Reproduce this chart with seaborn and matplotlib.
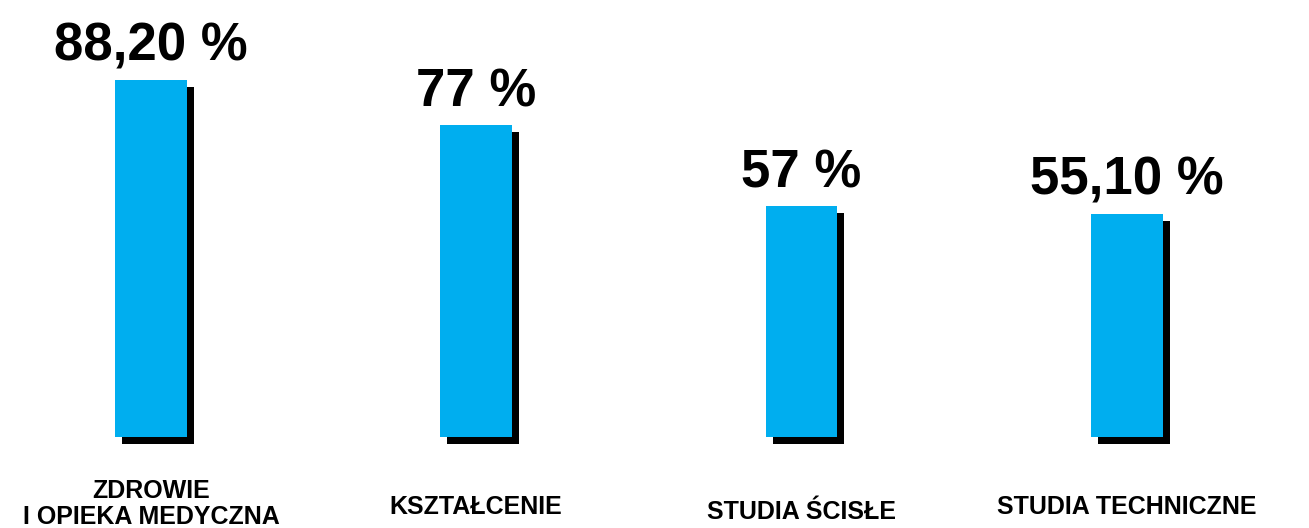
import matplotlib
matplotlib.use("Agg")
import matplotlib.pyplot as plt
import matplotlib.patheffects as pe
import seaborn as sns
import pandas as pd

# ---- Dane ----
kategorie = ["ZDROWIE\nI OPIEKA MEDYCZNA", "KSZTAŁCENIE", "STUDIA ŚCISŁE", "STUDIA TECHNICZNE"]
wartosci = [88.2, 77, 57, 55.1]
etykiety = ["88,20 %", "77 %", "57 %", "55,10 %"]
pozycja_etykiety = [-16.6, -17.3, -18.5, -17.3]  # pionowe położenie podpisów kategorii

data = pd.DataFrame({"kategoria": kategorie, "wartosc": wartosci})

sns.set_style("white")
plt.rcParams['font.family'] = ['Liberation Sans', 'DejaVu Sans']

fig = plt.figure(figsize=(13.09, 5.28), dpi=100)
ax = fig.add_axes([0, 0.172, 1, 0.828])

sns.barplot(data=data, x="kategoria", y="wartosc", color="#00AEEF",
            saturation=1, width=0.22, linewidth=0, ax=ax)

# cień pod słupkami
for p in ax.patches:
    p.set_clip_on(False)
    p.set_path_effects([pe.SimplePatchShadow(offset=(5, -5), shadow_rgbFace="black", alpha=1.0),
                        pe.Normal()])

# wartości nad słupkami
for i, (v, t) in enumerate(zip(wartosci, etykiety)):
    ax.annotate(t, xy=(i, v), xytext=(0, 14), textcoords="offset points",
                ha="center", va="baseline", fontsize=38, fontweight="bold", color="black")

# podpisy kategorii
for i, (k, y) in enumerate(zip(kategorie, pozycja_etykiety)):
    ax.text(i, y, k, ha="center", va="center", fontsize=18, fontweight="bold",
            color="black", linespacing=1.1, clip_on=False)

ax.set_xlim(-0.464, 3.56)
ax.set_ylim(0, 108)
ax.set_xticks([])
ax.set_yticks([])
ax.set_xlabel("")
ax.set_ylabel("")
sns.despine(ax=ax, left=True, bottom=True)

fig.savefig("out.png", dpi=100)
